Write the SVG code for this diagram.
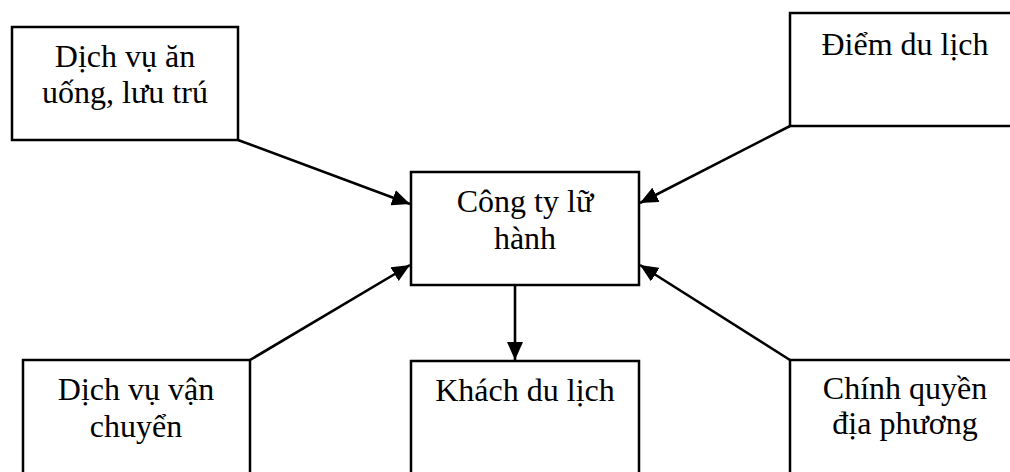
<svg xmlns="http://www.w3.org/2000/svg" width="1010" height="472" viewBox="0 0 1010 472">
<style>
.box{fill:#fff;stroke:#000;stroke-width:2.5}
.t{font-family:"Liberation Serif","Times New Roman",serif;font-size:32px;fill:#000;text-anchor:middle}
.c{stroke:#000;stroke-width:2.6;fill:none;marker-end:url(#ah)}
</style>
<defs>
<marker id="ah" markerUnits="userSpaceOnUse" markerWidth="19" markerHeight="16" refX="18" refY="8" orient="auto">
<path d="M0,0 L18,8 L0,16 Z" fill="#000"/>
</marker>
</defs>
<rect width="1010" height="472" fill="#fff"/>
<g id="n-dichvu-anuong">
<rect class="box" x="12" y="27" width="226" height="113"/>
<text class="t" x="125" y="67">Dịch vụ ăn</text>
<text class="t" x="125" y="103">uống, lưu trú</text>
</g>
<g id="n-diemdulich">
<rect class="box" x="790" y="13" width="232" height="113"/>
<text class="t" x="905" y="55">Điểm du lịch</text>
</g>
<g id="n-congty">
<rect class="box" x="411" y="172" width="228" height="113"/>
<text class="t" x="525" y="212">Công ty lữ</text>
<text class="t" x="525" y="249">hành</text>
</g>
<g id="n-vanchuyen">
<rect class="box" x="23" y="360" width="227" height="125"/>
<text class="t" x="136" y="400">Dịch vụ vận</text>
<text class="t" x="136" y="437">chuyển</text>
</g>
<g id="n-khach">
<rect class="box" x="411" y="361" width="228" height="124"/>
<text class="t" x="525" y="401">Khách du lịch</text>
</g>
<g id="n-chinhquyen">
<rect class="box" x="790" y="360" width="232" height="125"/>
<text class="t" x="905" y="399">Chính quyền</text>
<text class="t" x="905" y="434">địa phương</text>
</g>
<g id="connectors">
<line class="c" x1="238" y1="140" x2="410" y2="204"/>
<line class="c" x1="790" y1="126" x2="640" y2="203"/>
<line class="c" x1="250" y1="360" x2="410" y2="265"/>
<line class="c" x1="790" y1="360" x2="640" y2="265"/>
<line class="c" x1="515" y1="285" x2="515" y2="360"/>
</g>
</svg>
